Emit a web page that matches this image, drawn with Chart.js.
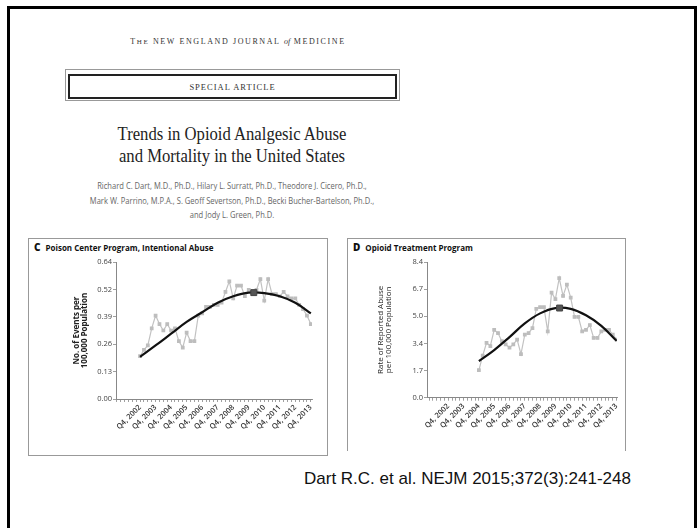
<!DOCTYPE html>
<html>
<head>
<meta charset="utf-8">
<script src="https://cdn.jsdelivr.net/npm/chart.js@4.4.1/dist/chart.umd.min.js"></script>
<style>
  body { margin: 0; width: 700px; height: 528px; background: #fff; position: relative; overflow: hidden; }
  .frame { position: absolute; left: 7px; top: 6px; width: 690px; height: 525px; border: 3px solid #000; box-sizing: border-box; }
  .journal { position: absolute; left: 0; width: 476px; top: 37px; text-align: center; font: 8px "Liberation Serif", serif; letter-spacing: 1.6px; color: #333; }
  .journal i { letter-spacing: 0; }
  .box { position: absolute; left: 65px; top: 69px; width: 335px; height: 32px; border: 1px solid #999; box-sizing: border-box; }
  .box div { position: absolute; left: 2px; right: 2px; top: 4px; bottom: 1px; border: 2px solid #222; text-align: center; font: 8.5px/22px "Liberation Serif", serif; letter-spacing: 1px; color: #333; }
  .title { position: absolute; left: 0; width: 464px; top: 123px; text-align: center; font: 18.5px/22px "Liberation Serif", serif; color: #222; transform: scaleX(0.9); transform-origin: 232px 0; }
  .authors { position: absolute; left: 0; width: 464px; top: 179px; text-align: center; font: 9px/14.5px "Open Sans", sans-serif; color: #666; transform: scaleX(0.84); transform-origin: 232px 0; }
  .panel { position: absolute; top: 238px; border: 1px solid #999; box-sizing: border-box; }
  .ptitle { position: absolute; left: 5px; top: 1px; font: bold 8px "Open Sans", sans-serif; color: #111; white-space: nowrap; }
  .ptitle b { font-size: 10px; margin-right: 5px; }
  canvas { position: absolute; }
  .cite { position: absolute; left: 304px; top: 469px; font: 17px "Liberation Sans", Arial, sans-serif; color: #111; }
</style>
</head>
<body>
<div class="frame"></div>
<div class="journal">T<span style="font-size:7px">HE</span> NEW ENGLAND JOURNAL <i>of</i> MEDICINE</div>
<div class="box"><div>SPECIAL ARTICLE</div></div>
<div class="title">Trends in Opioid Analgesic Abuse<br>and Mortality in the United States</div>
<div class="authors">Richard C. Dart, M.D., Ph.D., Hilary L. Surratt, Ph.D., Theodore J. Cicero, Ph.D.,<br>Mark W. Parrino, M.P.A., S. Geoff Severtson, Ph.D., Becki Bucher-Bartelson, Ph.D.,<br>and Jody L. Green, Ph.D.</div>

<div class="panel" style="left:28px;width:300px;height:218px"><div class="ptitle"><b>C</b>Poison Center Program, Intentional Abuse</div></div>
<div class="panel" style="left:347px;width:279px;height:213px;border-bottom:none"><div class="ptitle"><b>D</b>Opioid Treatment Program</div></div>

<canvas id="chartC" width="300" height="200" style="left:28px;top:250px"></canvas>
<canvas id="chartD" width="278" height="200" style="left:347px;top:250px"></canvas>

<div class="cite">Dart R.C. et al. NEJM 2015;372(3):241-248</div>

<script>
// quarter index: 0 = Q4 2002, 4 = Q4 2003 ... 44 = Q4 2013

// =====================
// Panel C data
// =====================
const cRates = [
  0.20, 0.23, 0.25, 0.33, 0.39, 0.35, 0.32, 0.35, 0.32, 0.33,
  0.27, 0.24, 0.31, 0.27, 0.27, 0.39, 0.40, 0.43, 0.43, 0.44,
  0.44, 0.45, 0.50, 0.55, 0.47, 0.53, 0.53, 0.48, 0.51, 0.50,
  0.51, 0.56, 0.46, 0.56, 0.49, 0.49, 0.48, 0.50, 0.48, 0.47,
  0.47, 0.44, 0.42, 0.39, 0.35
]
const cStart = 0
const cFitQ = [0, 4, 8, 12, 16, 20, 24, 28, 32, 36, 40, 44]
const cFit = [0.197, 0.25, 0.305, 0.36, 0.405, 0.45, 0.48, 0.497, 0.495, 0.48, 0.45, 0.40]
const cPeak = { x: 29.3, y: 0.497 }
const cYTicks = [0, 0.128, 0.256, 0.384, 0.512, 0.64]
const cYLabels = ["0.00", "0.13", "0.26", "0.39", "0.52", "0.64"]

// =====================
// Panel D data
// =====================
const dRates = [
  1.7, 2.6, 3.4, 3.2, 4.2, 4.0, 3.5, 3.3, 3.1, 3.3,
  3.6, 2.7, 3.9, 4.0, 4.3, 5.5, 5.6, 5.6, 4.1, 6.5,
  6.1, 7.4, 6.3, 7.0, 6.2, 5.0, 5.0, 4.1, 4.2, 4.5,
  3.7, 3.7, 4.1, 4.2, 4.2, 3.9, 3.6
]
const dStart = 8
const dFitQ = [8, 12, 16, 20, 24, 28, 32, 36, 40, 44]
const dFit = [2.27, 2.95, 3.75, 4.6, 5.22, 5.55, 5.5, 5.1, 4.45, 3.52]
const dPeak = { x: 29.1, y: 5.55 }
const dYTicks = [0, 1.68, 3.36, 5.04, 6.72, 8.4]
const dYLabels = ["0.0", "1.7", "3.4", "5.0", "6.7", "8.4"]


function toPoints(values, start) {
  return values.map((v, i) => ({ x: start + i, y: v }))
}

function buildPanel(id, cfg) {
  return new Chart(document.getElementById(id), {
    type: "line",
    data: {
      datasets: [
        {
          data: [cfg.peak],
          showLine: false,
          pointStyle: "rect",
          pointRadius: 4.2,
          backgroundColor: "#555",
          borderColor: "#444",
          borderWidth: 1
        },
        {
          data: cfg.fitQ.map((q, i) => ({ x: q, y: cfg.fit[i] })),
          borderColor: "#111",
          borderWidth: 2.2,
          pointRadius: 0,
          tension: 0.4,
          fill: false
        },
        {
          data: toPoints(cfg.rates, cfg.start),
          borderColor: "#c2c2c2",
          borderWidth: 1.2,
          pointStyle: "rect",
          pointRadius: 1.8,
          pointBackgroundColor: "#bdbdbd",
          pointBorderColor: "#bdbdbd",
          tension: 0,
          fill: false
        }
      ]
    },
    options: {
      responsive: false,
      animation: false,
      events: [],
      layout: { padding: { left: 0, right: cfg.padRight, top: cfg.padTop, bottom: 0 } },
      plugins: { legend: { display: false }, tooltip: { enabled: false } },
      scales: {
        x: {
          type: "linear",
          min: cfg.xMin,
          max: cfg.xMax,
          afterFit: s => { s.height = cfg.xHeight },
          grid: { drawOnChartArea: false, tickLength: 3, color: "#888", lineWidth: 0.8 },
          border: { color: "#888", width: 1 },
          ticks: {
            stepSize: 1,
            includeBounds: false,
            autoSkip: false,
            maxRotation: 45,
            minRotation: 45,
            padding: 1,
            color: "#333",
            font: { family: "Open Sans", size: 7.5, weight: "600" },
            callback: v => (v >= 0 && v % 4 === 0) ? "Q4, " + (2002 + v / 4) : ""
          }
        },
        y: {
          min: 0,
          max: cfg.yMax,
          afterFit: s => { s.width = cfg.yWidth },
          afterBuildTicks: s => { s.ticks = cfg.yTicks.map(v => ({ value: v })) },
          grid: { drawOnChartArea: false, tickLength: 3, color: "#888", lineWidth: 0.8 },
          border: { color: "#888", width: 1 },
          ticks: {
            padding: 1,
            color: "#444",
            font: { family: "Open Sans", size: 7.5 },
            callback: (v, i) => cfg.yLabels[i]
          },
          title: {
            display: true,
            text: cfg.yTitle,
            color: "#222",
            font: { family: "Open Sans", size: 8, weight: cfg.titleWeight, lineHeight: 1 },
            padding: { top: cfg.titlePad, bottom: 0 }
          }
        }
      }
    }
  })
}

buildPanel("chartC", {
  rates: cRates, start: cStart, fitQ: cFitQ, fit: cFit, peak: cPeak,
  yTicks: cYTicks, yLabels: cYLabels, yMax: 0.64,
  yTitle: ["No. of Events per", "100,000 Population"], titleWeight: "bold", titlePad: 45,
  xMin: -6.2, xMax: 44.3, padRight: 16, padTop: 12, xHeight: 51, yWidth: 88
})

buildPanel("chartD", {
  rates: dRates, start: dStart, fitQ: dFitQ, fit: dFit, peak: dPeak,
  yTicks: dYTicks, yLabels: dYLabels, yMax: 8.4,
  yTitle: ["Rate of Reported Abuse", "per 100,000 Population"], titleWeight: "normal", titlePad: 30,
  xMin: -5.56, xMax: 44.1, padRight: 8, padTop: 12, xHeight: 52.3, yWidth: 80
})
</script>
</body>
</html>
